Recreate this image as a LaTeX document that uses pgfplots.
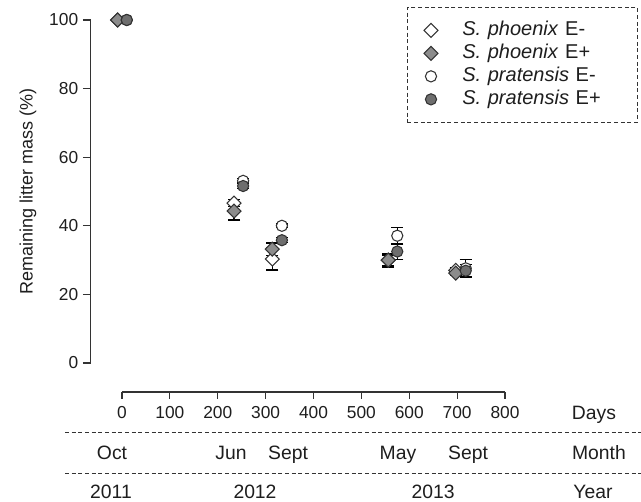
\documentclass[border=0pt]{standalone}
\usepackage{pgfplots}
\pgfplotsset{compat=1.18}
\usepackage{pgfplotstable}
\usepackage{fontspec}
\setmainfont{Liberation Sans}

\definecolor{edgegray}{HTML}{333333}
\definecolor{diafill}{HTML}{8C8C8C}
\definecolor{circfill}{HTML}{6E6E6E}
\definecolor{txt}{HTML}{1E1E1E}

\newcommand\fs{\fontsize{13}{15}\selectfont}
\newcommand\bfs{\fontsize{14.5}{17}\selectfont}
\newcommand\lfs{\fontsize{15}{17}\selectfont}

% remaining litter mass (%), mean and SE
% x = days since Oct 2011 (diamonds shifted left, circles right)
\pgfplotstableread{
x    y     e
-9   100   0
234  46.6  1.0
314  30.3  3.2
556  30.0  1.5
697  27.0  0.8
}\phoenixEm
\pgfplotstableread{
x    y     e
-9   100   0
234  44.3  2.6
314  33.2  1.8
556  30.0  2.0
697  26.2  0.8
}\phoenixEp
\pgfplotstableread{
x    y     e
10   100   0
253  53.1  0.6
334  40.0  0.5
575  37.1  2.4
718  27.6  2.6
}\pratensisEm
\pgfplotstableread{
x    y     e
10   100   0
253  51.6  0.8
334  35.8  0.7
575  32.5  2.3
718  26.9  1.8
}\pratensisEp

\pgfplotsset{
  ebars/.style={
    error bars/.cd, y dir=both, y explicit,
    error bar style={line width=0.9pt, black, solid},
    error mark options={rotate=90, mark size=4.5pt, line width=0.9pt, black, solid},
  },
}

\begin{document}
\begin{tikzpicture}
\useasboundingbox (0,0) rectangle (480.75pt,376.5pt);

% main axis: data and y axis
\begin{axis}[
  at={(68.16pt,104.25pt)}, anchor=south west,
  scale only axis, width=310.59pt, height=257.25pt,
  xmin=-65, xmax=800, ymin=0, ymax=100,
  axis x line=none, axis y line=left,
  axis line style={-, line width=0.8pt, color=edgegray},
  ytick={0,20,...,100},
  tick align=outside, major tick length=6pt,
  tick style={line width=0.8pt, color=edgegray},
  y tick label style={font=\fs, text=txt},
  /pgf/number format/assume math mode=true,
  clip=false,
  legend cell align=left,
  legend style={at={(0.7634,1.0379)}, anchor=north west,
    draw=edgegray, densely dashed, line width=0.6pt,
    font=\lfs, text=txt, row sep=0pt, column sep=16.25pt,
    inner xsep=12.45pt, inner ysep=8.6pt,
    nodes={text height=11pt, text depth=3.25pt, inner ysep=1.5pt,
      inner xsep=2pt, text width=116.8pt}},
]
\addplot+[only marks, mark=square*, mark size=3.7pt,
  mark options={rotate=45, fill=white, draw=edgegray, line width=0.8pt, solid},
  ebars] table[x=x, y=y, y error=e] {\phoenixEm};
\addlegendentry{\textit{S. phoenix} E-}
\addplot+[only marks, mark=square*, mark size=3.7pt,
  mark options={rotate=45, fill=diafill, draw=edgegray, line width=0.8pt, solid},
  ebars] table[x=x, y=y, y error=e] {\phoenixEp};
\addlegendentry{\textit{S. phoenix} E+}
\addplot+[only marks, mark=*, mark size=4.2pt,
  mark options={fill=white, draw=edgegray, line width=0.8pt, solid},
  ebars] table[x=x, y=y, y error=e] {\pratensisEm};
\addlegendentry{\textit{S. pratensis} E-}
\addplot+[only marks, mark=*, mark size=4.2pt,
  mark options={fill=circfill, draw=edgegray, line width=0.8pt, solid},
  ebars] table[x=x, y=y, y error=e] {\pratensisEp};
\addlegendentry{\textit{S. pratensis} E+}
\end{axis}

% detached x axis (days)
\begin{axis}[
  at={(91.5pt,82.5pt)}, anchor=south west,
  scale only axis, width=287.25pt, height=10pt,
  xmin=0, xmax=800, ymin=0, ymax=1,
  axis x line=bottom, axis y line=none,
  axis line style={-, line width=0.8pt, color=edgegray},
  xtick={0,100,...,800},
  tick align=outside, major tick length=5pt,
  tick style={line width=0.8pt, color=edgegray},
  x tick label style={font=\fs, text=txt},
  xticklabel shift=2pt,
  /pgf/number format/assume math mode=true,
]
\end{axis}

\node[rotate=90, font=\fontsize{13.5}{16}\selectfont, text=txt] at (21pt,232.9pt) {Remaining litter mass (\%)};

\node[font=\bfs, text=txt, anchor=base] at (445.5pt,61.5pt) {Days};
\draw[edgegray, densely dashed, line width=0.6pt] (48.75pt,52.5pt) -- (480.75pt,52.5pt);
\draw[edgegray, densely dashed, line width=0.6pt] (48.75pt,21.75pt) -- (480.75pt,21.75pt);

\begin{scope}[every node/.style={font=\bfs, text=txt, anchor=base}]
\node at (84pt,31.5pt) {Oct};
\node at (173.25pt,31.5pt) {Jun};
\node at (216pt,31.5pt) {Sept};
\node at (298.5pt,31.5pt) {May};
\node at (351pt,31.5pt) {Sept};
\node at (449.25pt,31.5pt) {Month};
\node at (83.25pt,2.25pt) {2011};
\node at (191.25pt,2.25pt) {2012};
\node at (324.75pt,2.25pt) {2013};
\node at (444.75pt,2.25pt) {Year};
\end{scope}
\end{tikzpicture}
\end{document}
